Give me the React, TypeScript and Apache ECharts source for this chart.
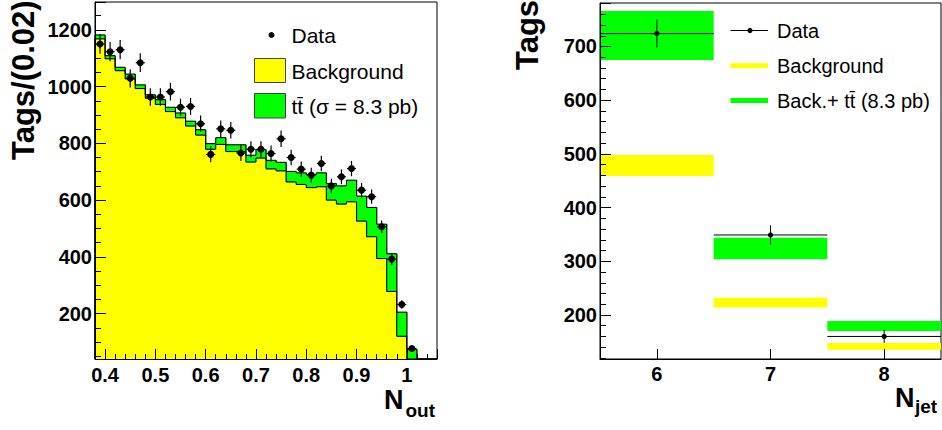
import React, { useEffect, useRef } from "react";
import * as echarts from "echarts";

// ---------- Left panel: N_out histogram ----------
const binLow = [
  0.38, 0.4, 0.42, 0.44, 0.46, 0.48, 0.5, 0.52, 0.54, 0.56, 0.58, 0.6, 0.62, 0.64, 0.66, 0.68, 0.7,
  0.72, 0.74, 0.76, 0.78, 0.8, 0.82, 0.84, 0.86, 0.88, 0.9, 0.92, 0.94, 0.96, 0.98, 1.0, 1.02, 1.04,
];
const binWidth = 0.02;
const background = [
  1168, 1098, 1056, 1027, 993, 959, 937, 912, 890, 861, 829, 779, 796, 771, 771, 734, 748, 710, 703,
  664, 655, 644, 647, 600, 586, 594, 526, 471, 394, 278, 120, 20, 0, 0,
];
const ttbar = [
  14, 11, 12, 17, 13, 12, 17, 15, 17, 17, 19, 20, 24, 24, 24, 24, 30, 30, 30, 37, 41, 46, 49, 58, 64,
  76, 88, 103, 121, 133, 85, 54, 0, 0,
];
const dataX = [
  0.39, 0.41, 0.43, 0.45, 0.47, 0.49, 0.51, 0.53, 0.55, 0.57, 0.59, 0.61, 0.63, 0.65, 0.67, 0.69,
  0.71, 0.73, 0.75, 0.77, 0.79, 0.81, 0.83, 0.85, 0.87, 0.89, 0.91, 0.93, 0.95, 0.97, 0.99, 1.01,
];
const dataY = [
  1150, 1123, 1130, 1029, 1084, 963, 963, 982, 927, 930, 869, 761, 851, 846, 766, 779, 779, 764, 816,
  750, 709, 688, 729, 650, 682, 711, 635, 612, 506, 392, 232, 77,
];
const dataErr = [
  34, 34, 34, 32, 33, 31, 31, 31, 30, 30, 29, 28, 29, 29, 28, 28, 28, 28, 29, 27, 27, 26, 27, 25, 26,
  27, 25, 25, 22, 20, 15, 9,
];

// ---------- Right panel: N_jet ----------
const njet = [6, 7, 8];
const bgBandLow = [459, 214, 135];
const bgBandHigh = [498, 232, 148];
const totBandLow = [675, 304, 170];
const totBandHigh = [766, 344, 189];
const njetData = [724, 349, 160];
const njetErr = [26, 18, 12];

const L_XMIN = 0.38, L_XMAX = 1.06, L_YMIN = 40, L_YMAX = 1298;
const R_XMIN = 5.5, R_XMAX = 8.5, R_YMIN = 118, R_YMAX = 781;
const NJET_HALF = 0.5;
const DATA_XERR = 0.009;

const YELLOW = "#ffff00";
const GREEN = "#00ff00";
const FONT = '"Liberation Sans", Arial, Helvetica, sans-serif';

export default function App() {
  const ref = useRef<HTMLDivElement>(null);

  useEffect(() => {
    if (!ref.current) return;
    const chart = echarts.init(ref.current, undefined, { renderer: "svg" });

    const histData = binLow.map((x, i) => [
      x,
      x + binWidth,
      background[i],
      background[i] + ttbar[i],
      i ? background[i - 1] : L_YMIN,
      i ? background[i - 1] + ttbar[i - 1] : L_YMIN,
    ]);
    const pointData = dataX.map((x, i) => [x, dataY[i], dataErr[i]]);
    const bandData = njet.map((n, i) => [n, bgBandLow[i], bgBandHigh[i], totBandLow[i], totBandHigh[i]]);
    const njetPoints = njet.map((n, i) => [n, njetData[i], njetErr[i]]);

    const axisLabel = (margin: number) => ({
      color: "#000",
      fontFamily: FONT,
      fontWeight: "bold" as const,
      fontSize: 20,
      margin,
      showMinLabel: false,
      showMaxLabel: false,
      formatter: (v: number) => String(v),
    });
    const line = { lineStyle: { color: "#000", width: 1 } };

    const option: any = {
      animation: false,
      grid: [
        { left: 95, top: 2, width: 342, height: 357, show: true, borderColor: "#000", borderWidth: 1, backgroundColor: "transparent" },
        { left: 600, top: 3, width: 341, height: 356, show: true, borderColor: "#000", borderWidth: 1, backgroundColor: "transparent" },
      ],
      xAxis: [
        {
          type: "value", gridIndex: 0, min: L_XMIN, max: L_XMAX, splitNumber: 7, z: 10,
          axisLine: { show: true, ...line },
          axisTick: { show: true, inside: true, length: 10, ...line },
          minorTick: { show: true, splitNumber: 5, length: 5, ...line },
          splitLine: { show: false },
          axisLabel: axisLabel(6),
        },
        {
          type: "value", gridIndex: 1, min: R_XMIN, max: R_XMAX, splitNumber: 3, z: 10,
          axisLine: { show: true, ...line },
          axisTick: { show: true, inside: true, length: 10, ...line },
          minorTick: { show: false },
          splitLine: { show: false },
          axisLabel: axisLabel(5),
        },
      ],
      yAxis: [
        {
          type: "value", gridIndex: 0, min: L_YMIN, max: L_YMAX, splitNumber: 6, z: 10,
          axisLine: { show: true, ...line },
          axisTick: { show: true, inside: true, length: 11, ...line },
          minorTick: { show: true, splitNumber: 4, length: 6, ...line },
          splitLine: { show: false },
          axisLabel: axisLabel(3),
        },
        {
          type: "value", gridIndex: 1, min: R_YMIN, max: R_YMAX, splitNumber: 7, z: 10,
          axisLine: { show: true, ...line },
          axisTick: { show: true, inside: true, length: 11, ...line },
          minorTick: { show: true, splitNumber: 5, length: 6, ...line },
          splitLine: { show: false },
          axisLabel: axisLabel(3),
        },
      ],
      series: [
        {
          type: "custom",
          xAxisIndex: 0,
          yAxisIndex: 0,
          data: histData,
          encode: { x: [0, 1], y: [2, 3] },
          renderItem: (_p: any, api: any) => {
            const cl = (v: number) => Math.max(v, L_YMIN);
            const xl = api.value(0), xh = api.value(1);
            const bg = api.value(2), tot = api.value(3), pbg = api.value(4), ptot = api.value(5);
            const [x0, yb] = api.coord([xl, L_YMIN]);
            const x1 = api.coord([xh, L_YMIN])[0];
            const ybg = api.coord([xl, cl(bg)])[1];
            const ytot = api.coord([xl, cl(tot)])[1];
            const ypbg = api.coord([xl, cl(pbg)])[1];
            const yptot = api.coord([xl, cl(ptot)])[1];
            const ls = { stroke: "#000", lineWidth: 1.1 };
            const ov = xh < L_XMAX - 1e-9 ? 0.8 : 0;
            return {
              type: "group",
              children: [
                { type: "rect", shape: { x: x0, y: ybg, width: x1 - x0 + ov, height: yb - ybg }, style: { fill: YELLOW } },
                { type: "rect", shape: { x: x0, y: ytot, width: x1 - x0 + ov, height: ybg - ytot + 0.3 }, style: { fill: GREEN } },
                { type: "line", shape: { x1: x0, y1: ybg, x2: x1, y2: ybg }, style: ls },
                { type: "line", shape: { x1: x0, y1: ypbg, x2: x0, y2: ybg }, style: ls },
                { type: "line", shape: { x1: x0, y1: ytot, x2: x1, y2: ytot }, style: ls },
                { type: "line", shape: { x1: x0, y1: yptot, x2: x0, y2: ytot }, style: ls },
              ],
            };
          },
        },
        {
          type: "custom",
          xAxisIndex: 0,
          yAxisIndex: 0,
          data: pointData,
          encode: { x: 0, y: 1 },
          renderItem: (_p: any, api: any) => {
            const x = api.value(0), y = api.value(1), e = api.value(2);
            const c = api.coord([x, y]);
            const t = api.coord([x, y + e]);
            const b = api.coord([x, Math.max(y - e, L_YMIN)]);
            const l = api.coord([x - DATA_XERR, y]);
            const r = api.coord([x + DATA_XERR, y]);
            const ls = { stroke: "#000", lineWidth: 1.2 };
            return {
              type: "group",
              children: [
                { type: "line", shape: { x1: t[0], y1: t[1], x2: b[0], y2: b[1] }, style: ls },
                { type: "line", shape: { x1: l[0], y1: l[1], x2: r[0], y2: r[1] }, style: ls },
                { type: "circle", shape: { cx: c[0], cy: c[1], r: 3.5 }, style: { fill: "#000" } },
              ],
            };
          },
        },
        {
          type: "custom",
          xAxisIndex: 1,
          yAxisIndex: 1,
          data: bandData,
          encode: { x: 0, y: [1, 4] },
          renderItem: (_p: any, api: any) => {
            const n = api.value(0);
            const bl = api.coord([n - NJET_HALF, api.value(1)]);
            const bh = api.coord([n + NJET_HALF, api.value(2)]);
            const tl = api.coord([n - NJET_HALF, api.value(3)]);
            const th = api.coord([n + NJET_HALF, api.value(4)]);
            return {
              type: "group",
              children: [
                { type: "rect", shape: { x: tl[0], y: th[1], width: th[0] - tl[0], height: tl[1] - th[1] }, style: { fill: GREEN } },
                { type: "rect", shape: { x: bl[0], y: bh[1], width: bh[0] - bl[0], height: bl[1] - bh[1] }, style: { fill: YELLOW } },
              ],
            };
          },
        },
        {
          type: "custom",
          xAxisIndex: 1,
          yAxisIndex: 1,
          data: njetPoints,
          encode: { x: 0, y: 1 },
          renderItem: (_p: any, api: any) => {
            const n = api.value(0), y = api.value(1), e = api.value(2);
            const c = api.coord([n, y]);
            const t = api.coord([n, y + e]);
            const b = api.coord([n, y - e]);
            const l = api.coord([n - NJET_HALF, y]);
            const r = api.coord([n + NJET_HALF, y]);
            const ls = { stroke: "#000", lineWidth: 1 };
            return {
              type: "group",
              children: [
                { type: "line", shape: { x1: l[0], y1: l[1], x2: r[0], y2: r[1] }, style: ls },
                { type: "line", shape: { x1: t[0], y1: t[1], x2: b[0], y2: b[1] }, style: ls },
                { type: "circle", shape: { cx: c[0], cy: c[1], r: 2.6 }, style: { fill: "#000" } },
              ],
            };
          },
        },
      ],
      graphic: {
        elements: [
          // left legend
          { type: "circle", shape: { cx: 271.5, cy: 35, r: 3 }, style: { fill: "#000" } },
          { type: "text", x: 291.5, y: 35, style: { text: "Data", font: `21px ${FONT}`, fill: "#000", align: "left", verticalAlign: "middle" } },
          { type: "rect", shape: { x: 254.5, y: 58.5, width: 31, height: 24 }, style: { fill: YELLOW, stroke: "#444", lineWidth: 1 } },
          { type: "text", x: 291.5, y: 71, style: { text: "Background", font: `21px ${FONT}`, fill: "#000", align: "left", verticalAlign: "middle" } },
          { type: "rect", shape: { x: 254.5, y: 93.5, width: 31, height: 24.5 }, style: { fill: GREEN, stroke: "#444", lineWidth: 1 } },
          { type: "text", x: 291.5, y: 106, style: { text: "tt\u0304 (\u03c3 = 8.3 pb)", font: `21px ${FONT}`, fill: "#000", align: "left", verticalAlign: "middle" } },
          // right legend
          { type: "line", shape: { x1: 730.5, y1: 30.5, x2: 768, y2: 30.5 }, style: { stroke: "#000", lineWidth: 1 } },
          { type: "circle", shape: { cx: 750, cy: 30.5, r: 2.6 }, style: { fill: "#000" } },
          { type: "text", x: 777, y: 30.5, style: { text: "Data", font: `20px ${FONT}`, fill: "#000", align: "left", verticalAlign: "middle" } },
          { type: "line", shape: { x1: 730.5, y1: 65.7, x2: 768, y2: 65.7 }, style: { stroke: YELLOW, lineWidth: 5 } },
          { type: "text", x: 777, y: 65.7, style: { text: "Background", font: `20px ${FONT}`, fill: "#000", align: "left", verticalAlign: "middle" } },
          { type: "line", shape: { x1: 730.5, y1: 100.5, x2: 768, y2: 100.5 }, style: { stroke: GREEN, lineWidth: 5 } },
          { type: "text", x: 777, y: 100.5, style: { text: "Back.+ tt\u0304 (8.3 pb)", font: `20px ${FONT}`, fill: "#000", align: "left", verticalAlign: "middle" } },
          // axis titles
          { type: "text", x: 23, y: 160, rotation: Math.PI / 2, style: { text: "Tags/(0.02)", font: `bold 31px ${FONT}`, fill: "#000", align: "left", verticalAlign: "middle" } },
          { type: "text", x: 527, y: 70, rotation: Math.PI / 2, style: { text: "Tags", font: `bold 31px ${FONT}`, fill: "#000", align: "left", verticalAlign: "middle" } },
          { type: "text", x: 384, y: 400, style: { text: "N", font: `bold 27px ${FONT}`, fill: "#000", align: "left", verticalAlign: "middle" } },
          { type: "text", x: 405.5, y: 410, style: { text: "out", font: `bold 19px ${FONT}`, fill: "#000", align: "left", verticalAlign: "middle" } },
          { type: "text", x: 895, y: 398, style: { text: "N", font: `bold 27px ${FONT}`, fill: "#000", align: "left", verticalAlign: "middle" } },
          { type: "text", x: 915, y: 406, style: { text: "jet", font: `bold 19px ${FONT}`, fill: "#000", align: "left", verticalAlign: "middle" } },
        ],
      },
    };

    chart.setOption(option);
    return () => chart.dispose();
  }, []);

  return (
    <div
      ref={ref}
      style={{ position: "absolute", left: 0, top: 0, width: 942, height: 430, background: "#fff" }}
    />
  );
}
